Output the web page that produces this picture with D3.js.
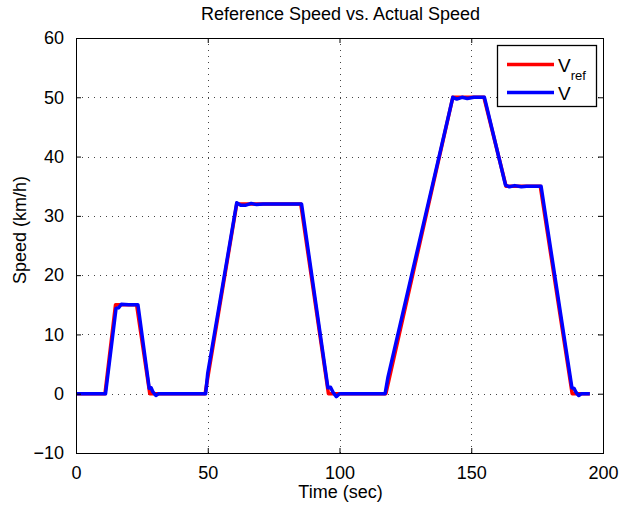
<!DOCTYPE html>
<html>
<head>
<meta charset="utf-8">
<script src="https://cdn.jsdelivr.net/npm/d3@7"></script>
<style>
  body { margin: 0; background: #fff; }
  text { font-family: "Liberation Sans", Arial, Helvetica, sans-serif; fill: #000; }
</style>
</head>
<body>
<svg id="chart" width="620" height="505"></svg>
<script>
// -----------------------------------------------------------------------------
// data: [time (sec), speed (km/h)]

var vRef = [
  [0, 0], [11, 0], [15, 15], [23, 15], [28, 0], [49, 0],
  [61, 32], [85.3, 32], [95.8, 0], [117.6, 0], [143, 50], [154.8, 50],
  [163.2, 35], [176.2, 35], [188.3, 0], [195, 0]
];

var vAct = [
  [0, 0], [11.2, 0], [15.2, 14.4], [16.2, 14.5], [17.2, 15.1], [20, 15], [23.5, 15],
  [27.8, 0.9], [28.5, 1], [29.2, 0.3], [30.3, -0.3], [31.3, 0], [49.2, 0],
  [50, 3.5], [61, 32.2], [62.5, 31.8], [64.5, 31.8], [66.5, 32.1], [68.5, 31.9],
  [71, 32], [85.6, 32], [95.6, 1], [96.6, 1.1], [97.6, 0.2], [98.8, -0.5],
  [100, 0], [117.3, 0], [118.4, 2.8], [143, 50], [144.5, 49.7], [146.5, 50],
  [148.5, 49.8], [151, 50], [155, 50], [163, 35.2], [164.5, 34.9], [166.5, 35.1],
  [169, 34.9], [171, 35], [176.5, 35], [188.2, 1], [189, 0.9], [189.8, 0.2],
  [190.8, -0.3], [191.8, 0], [195, 0]
];

var xTicks = [0, 50, 100, 150, 200];
var yTicks = [-10, 0, 10, 20, 30, 40, 50, 60];

var titleText = 'Reference Speed vs. Actual Speed';
var xLabelText = 'Time (sec)';
var yLabelText = 'Speed (km/h)';

// -----------------------------------------------------------------------------

var svg = d3.select('#chart');

var plotLeft = 76, plotRight = 603, plotTop = 38, plotBottom = 453;
var fontSize = 18;

var x = d3.scaleLinear().domain([0, 200]).range([plotLeft, plotRight]);
var y = d3.scaleLinear().domain([-10, 60]).range([plotBottom, plotTop]);

// - - - - - - - - - - - - - - - - - - - - - - - - - - - - - - - - - - - - - -
// grid

var gGrid = svg.append('g')
  .attr('stroke', '#444')
  .attr('stroke-width', 1)
  .attr('stroke-dasharray', '1,5')
  .attr('shape-rendering', 'crispEdges');

gGrid.selectAll('line.gx')
  .data(xTicks.slice(1, -1))
  .join('line')
  .classed('gx', true)
  .attr('x1', function (d) { return Math.round(x(d)) + 0.5; })
  .attr('x2', function (d) { return Math.round(x(d)) + 0.5; })
  .attr('y1', plotTop)
  .attr('y2', plotBottom);

gGrid.selectAll('line.gy')
  .data(yTicks.slice(1, -1))
  .join('line')
  .classed('gy', true)
  .attr('x1', plotLeft)
  .attr('x2', plotRight)
  .attr('y1', function (d) { return Math.round(y(d)) + 0.5; })
  .attr('y2', function (d) { return Math.round(y(d)) + 0.5; });

// - - - - - - - - - - - - - - - - - - - - - - - - - - - - - - - - - - - - - -
// lines

var line = d3.line()
  .x(function (d) { return x(d[0]); })
  .y(function (d) { return y(d[1]); });

svg.append('path')
  .datum(vRef)
  .attr('d', line)
  .attr('fill', 'none')
  .attr('stroke', '#ff0000')
  .attr('stroke-width', 3.5)
  .attr('stroke-linejoin', 'round');

svg.append('path')
  .datum(vAct)
  .attr('d', line)
  .attr('fill', 'none')
  .attr('stroke', '#0000ff')
  .attr('stroke-width', 3.5)
  .attr('stroke-linejoin', 'round');

// - - - - - - - - - - - - - - - - - - - - - - - - - - - - - - - - - - - - - -
// axes (box with inward ticks on all sides)

var tickLen = 5;

var gAxisBottom = svg.append('g')
  .attr('transform', 'translate(0,' + plotBottom + ')')
  .call(d3.axisBottom(x).tickValues(xTicks).tickSize(-tickLen).tickPadding(12));
var gAxisTop = svg.append('g')
  .attr('transform', 'translate(0,' + plotTop + ')')
  .call(d3.axisTop(x).tickValues(xTicks).tickSize(-tickLen).tickFormat(''));
var gAxisLeft = svg.append('g')
  .attr('transform', 'translate(' + plotLeft + ',0)')
  .call(d3.axisLeft(y).tickValues(yTicks).tickSize(-tickLen).tickPadding(12));
var gAxisRight = svg.append('g')
  .attr('transform', 'translate(' + plotRight + ',0)')
  .call(d3.axisRight(y).tickValues(yTicks).tickSize(-tickLen).tickFormat(''));

[gAxisBottom, gAxisTop, gAxisLeft, gAxisRight].forEach(function (g) {
  g.select('.domain').remove();
  g.selectAll('.tick line').attr('stroke', '#000');
  g.selectAll('.tick text')
    .style('font-size', fontSize + 'px')
    .style('font-family', '"Liberation Sans", Arial, Helvetica, sans-serif')
    .attr('fill', '#000');
});

gAxisBottom.selectAll('.tick text').attr('dy', '0.75em');
gAxisLeft.selectAll('.tick text').text(function (d) {
  return d < 0 ? '\u2212' + Math.abs(d) : d;
});

svg.append('rect')
  .attr('x', plotLeft + 0.5)
  .attr('y', plotTop + 0.5)
  .attr('width', plotRight - plotLeft)
  .attr('height', plotBottom - plotTop)
  .attr('fill', 'none')
  .attr('stroke', '#000')
  .attr('stroke-width', 1.3)
  .attr('shape-rendering', 'crispEdges');

// - - - - - - - - - - - - - - - - - - - - - - - - - - - - - - - - - - - - - -
// texts

svg.append('text')
  .attr('x', (plotLeft + plotRight) / 2 + 1)
  .attr('y', 20)
  .attr('text-anchor', 'middle')
  .style('font-size', fontSize + 'px')
  .text(titleText);

svg.append('text')
  .attr('x', (plotLeft + plotRight) / 2 + 1)
  .attr('y', 498)
  .attr('text-anchor', 'middle')
  .style('font-size', fontSize + 'px')
  .text(xLabelText);

svg.append('text')
  .attr('transform', 'translate(26,' + 230 + ') rotate(-90)')
  .attr('text-anchor', 'middle')
  .style('font-size', fontSize + 'px')
  .text(yLabelText);

// - - - - - - - - - - - - - - - - - - - - - - - - - - - - - - - - - - - - - -
// legend

var legendItems = [
  { color: '#ff0000', label: 'V', sub: 'ref' },
  { color: '#0000ff', label: 'V', sub: '' }
];

var gLegend = svg.append('g');

gLegend.append('rect')
  .attr('x', 497.5)
  .attr('y', 45.5)
  .attr('width', 99)
  .attr('height', 61)
  .attr('fill', '#fff')
  .attr('stroke', '#000')
  .attr('stroke-width', 1.3);

var gLegendItem = gLegend.selectAll('g.item')
  .data(legendItems)
  .join('g')
  .classed('item', true)
  .attr('transform', function (d, i) {
    return 'translate(0,' + (64.5 + i * 28) + ')';
  });

gLegendItem.append('line')
  .attr('x1', 507)
  .attr('x2', 554)
  .attr('stroke', function (d) { return d.color; })
  .attr('stroke-width', 3.5);

var legendText = gLegendItem.append('text')
  .attr('x', 558)
  .attr('y', 7)
  .style('font-size', '19px');

legendText.append('tspan').text(function (d) { return d.label; });
legendText.append('tspan')
  .attr('dy', 8)
  .style('font-size', '13px')
  .text(function (d) { return d.sub; });

// -----------------------------------------------------------------------------
</script>
</body>
</html>
